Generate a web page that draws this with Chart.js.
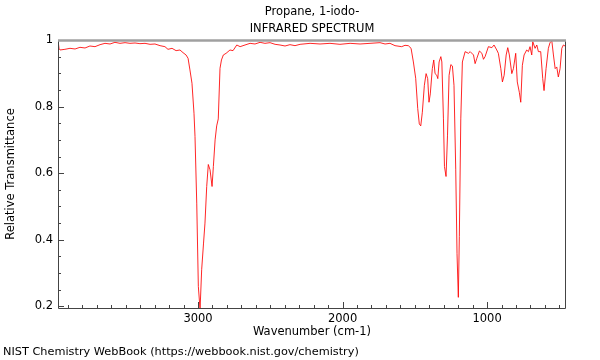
<!DOCTYPE html>
<html>
<head>
<meta charset="utf-8">
<script src="https://cdn.jsdelivr.net/npm/chart.js@4.4.0/dist/chart.umd.min.js"></script>
<style>
html, body { margin: 0; padding: 0; background: #fff; }
#wrap { position: relative; width: 600px; height: 360px; }
#footer { position: absolute; left: 3px; top: 345px; font: 11.3px "DejaVu Sans"; color: #000; white-space: nowrap; }
</style>
</head>
<body>
<div id="wrap">
  <canvas id="myChart" width="600" height="360"></canvas>
  <div id="footer">NIST Chemistry WebBook (https://webbook.nist.gov/chemistry)</div>
</div>
<script>
const titulo = ["Propane, 1-iodo-", "INFRARED SPECTRUM"];
const xTickLabels = [1000, 2000, 3000];
const yTickLabels = [0.2, 0.4, 0.6, 0.8, 1];

// wavenumber (cm-1) and relative transmittance
const wavenumber = [
  3969, 3962, 3955, 3921, 3886, 3851, 3817, 3782, 3748, 3713,
  3678, 3644, 3609, 3575, 3540, 3505, 3471, 3436, 3402, 3367,
  3332, 3298, 3263, 3229, 3208, 3180, 3152, 3125, 3104, 3083,
  3069, 3056, 3042, 3028, 3021, 3009, 2998, 2986, 2975, 2962,
  2952, 2940, 2929, 2917, 2903, 2894, 2882, 2871, 2860, 2848,
  2838, 2825, 2806, 2779, 2758, 2732, 2709, 2675, 2640, 2606,
  2571, 2537, 2502, 2467, 2433, 2398, 2364, 2329, 2294, 2225,
  2156, 2087, 2018, 1948, 1879, 1810, 1741, 1706, 1672, 1637,
  1591, 1568, 1545, 1526, 1510, 1494, 1480, 1469, 1459, 1448,
  1434, 1422, 1411, 1402, 1393, 1379, 1369, 1360, 1348, 1341,
  1332, 1320, 1313, 1302, 1295, 1284, 1274, 1263, 1251, 1240,
  1229, 1217, 1208, 1199, 1192, 1182, 1171, 1152, 1129, 1117,
  1094, 1083, 1071, 1053, 1036, 1025, 1014, 991, 967, 952,
  933, 922, 905, 894, 882, 868, 857, 846, 829, 818,
  802, 791, 777, 767, 756, 744, 726, 714, 703, 691,
  684, 668, 656, 645, 629, 615, 606, 592, 576, 564,
  552, 541, 529, 518, 507, 495, 483, 472, 454
];
const transmittance = [
  1.0, 0.975, 0.97, 0.972, 0.975, 0.973, 0.978, 0.976, 0.982, 0.98,
  0.986, 0.99, 0.988, 0.993, 0.99, 0.992, 0.99, 0.991, 0.989, 0.99,
  0.987, 0.988, 0.983, 0.98, 0.972, 0.975, 0.968, 0.97, 0.962, 0.955,
  0.945, 0.91, 0.87, 0.78, 0.71, 0.51, 0.26, 0.19, 0.31, 0.39,
  0.45, 0.56, 0.626, 0.61, 0.56, 0.62, 0.70, 0.742, 0.763, 0.915,
  0.94, 0.955, 0.96, 0.97, 0.968, 0.985, 0.98, 0.985, 0.99, 0.988,
  0.993, 0.99, 0.992, 0.987, 0.985, 0.982, 0.986, 0.983, 0.987, 0.99,
  0.988, 0.99, 0.987, 0.99, 0.988, 0.99, 0.992, 0.988, 0.99, 0.983,
  0.98, 0.984, 0.983, 0.975, 0.934, 0.885, 0.794, 0.748, 0.742, 0.783,
  0.864, 0.899, 0.884, 0.813, 0.838, 0.914, 0.94, 0.899, 0.894, 0.884,
  0.934, 0.95, 0.934, 0.763, 0.62, 0.59, 0.712, 0.894, 0.926, 0.922,
  0.864, 0.612, 0.358, 0.227, 0.41, 0.763, 0.934, 0.965, 0.96, 0.965,
  0.955, 0.929, 0.945, 0.967, 0.96, 0.942, 0.95, 0.98, 0.977, 0.985,
  0.97, 0.96, 0.914, 0.874, 0.894, 0.955, 0.977, 0.955, 0.899, 0.914,
  0.96, 0.874, 0.843, 0.813, 0.924, 0.955, 0.97, 0.965, 0.98, 0.955,
  0.995, 0.975, 0.985, 0.965, 0.965, 0.884, 0.848, 0.914, 0.975, 0.993,
  0.997, 0.955, 0.914, 0.919, 0.889, 0.914, 0.975, 0.985, 0.98
];

const fuente = "DejaVu Sans";
const tamano = 11.5;

const puntos = wavenumber.map((w, i) => ({ x: w, y: transmittance[i] }));

// titles, frame and inward ticks
const extras = {
  id: "extras",
  afterDraw(chart) {
    const { ctx, chartArea: a, scales } = chart;
    ctx.save();
    ctx.fillStyle = "#000";
    ctx.font = `${tamano}px "${fuente}"`;
    ctx.textAlign = "center";
    ctx.textBaseline = "middle";
    const cx = (a.left + a.right) / 2;
    ctx.fillText(titulo[0], cx, 12);
    ctx.fillText(titulo[1], cx, 29);

    ctx.strokeStyle = "#444";
    ctx.lineWidth = 1;
    ctx.beginPath();
    for (let w = 500; w <= 3900; w += 100) {
      const px = Math.round(scales.x.getPixelForValue(w)) + 0.5;
      const len = w % 1000 === 0 ? 6 : 3;
      ctx.moveTo(px, a.bottom);
      ctx.lineTo(px, a.bottom - len);
    }
    for (let k = 4; k <= 20; k++) {
      const v = k * 0.05;
      const py = Math.round(scales.y.getPixelForValue(v)) + 0.5;
      const len = k % 4 === 0 ? 6 : 3;
      ctx.moveTo(a.left, py);
      ctx.lineTo(a.left + len, py);
    }
    ctx.stroke();

    ctx.beginPath();
    ctx.moveTo(a.left + 0.5, a.top);
    ctx.lineTo(a.left + 0.5, a.bottom + 0.5);
    ctx.lineTo(a.right - 0.5, a.bottom + 0.5);
    ctx.lineTo(a.right - 0.5, a.top);
    ctx.stroke();

    ctx.strokeStyle = "#a0a0a0";
    ctx.lineWidth = 2.5;
    ctx.beginPath();
    ctx.moveTo(a.left, a.top + 0.5);
    ctx.lineTo(a.right, a.top + 0.5);
    ctx.stroke();
    ctx.restore();
  }
};

const config = {
  type: "line",
  data: {
    datasets: [
      {
        data: puntos,
        borderColor: "rgba(255, 0, 0, 0.85)",
        borderWidth: 1,
        pointRadius: 0,
        tension: 0,
        fill: false,
      },
    ],
  },
  options: {
    responsive: false,
    animation: false,
    layout: { padding: { top: 40, right: 34, left: 0, bottom: 0 } },
    plugins: { legend: { display: false }, tooltip: { enabled: false }, title: { display: false } },
    scales: {
      x: {
        type: "linear",
        reverse: true,
        min: 454,
        max: 3969,
        grid: { display: false, drawTicks: false },
        border: { display: false },
        afterBuildTicks: (s) => { s.ticks = xTickLabels.map((v) => ({ value: v })); },
        afterFit: (s) => { s.height = 52; },
        ticks: {
          color: "#000",
          font: { family: fuente, size: tamano },
          padding: 4,
          maxRotation: 0,
          autoSkip: false,
          callback: (v) => String(v),
        },
        title: { display: true, text: "Wavenumber (cm-1)", color: "#000", font: { family: fuente, size: tamano }, padding: { top: 0, bottom: 21 } },
      },
      y: {
        type: "linear",
        min: 0.195,
        max: 1.0,
        grid: { display: false, drawTicks: false },
        border: { display: false },
        afterBuildTicks: (s) => { s.ticks = yTickLabels.map((v) => ({ value: v })); },
        afterFit: (s) => { s.width = 58; },
        ticks: {
          color: "#000",
          font: { family: fuente, size: tamano },
          padding: 5,
          callback: (v) => (v === 1 ? "1" : v.toFixed(1)),
        },
        title: { display: true, text: "Relative Transmittance", color: "#000", font: { family: fuente, size: tamano }, padding: { top: 4, bottom: 0 } },
      },
    },
  },
  plugins: [extras],
};

const canvas = document.getElementById("myChart");
const myChart = new Chart(canvas, config);
</script>
</body>
</html>
